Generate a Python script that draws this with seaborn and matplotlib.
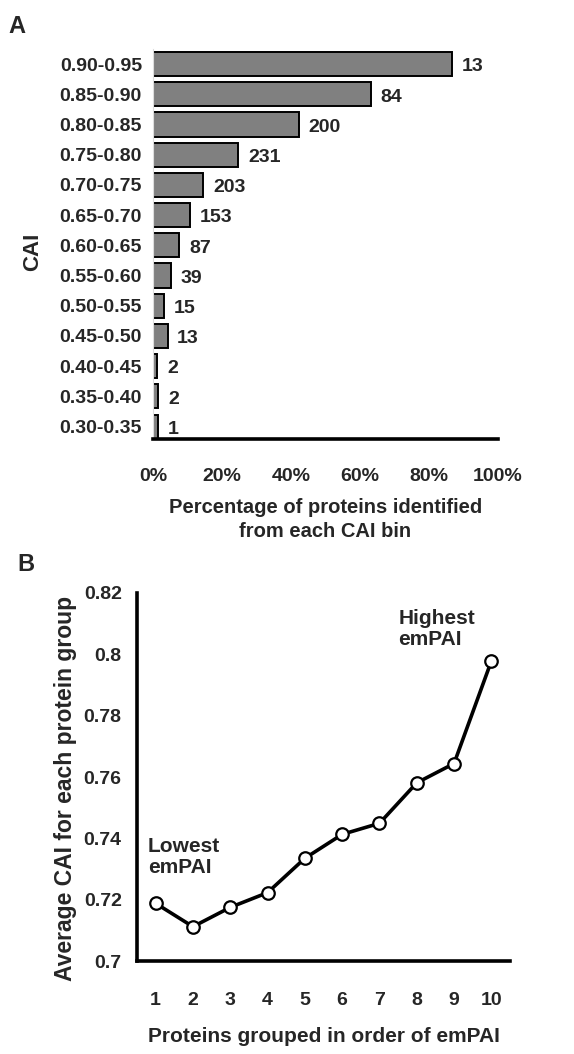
import matplotlib
matplotlib.use("Agg")
import matplotlib.pyplot as plt
import seaborn as sns
import pandas as pd
from matplotlib.ticker import FixedLocator, FuncFormatter

# Panel A: CAI bins, % identified and counts shown next to each bar
CAI_BINS = ["0.90-0.95", "0.85-0.90", "0.80-0.85", "0.75-0.80", "0.70-0.75",
            "0.65-0.70", "0.60-0.65", "0.55-0.60", "0.50-0.55", "0.45-0.50",
            "0.40-0.45", "0.35-0.40", "0.30-0.35"]
PCT_IDENTIFIED = [86.7, 63.1, 42.3, 24.7, 14.6, 10.7, 7.6, 5.1, 3.1, 4.2, 1.2, 1.5, 1.4]
PROTEIN_COUNTS = ["13", "84", "200", "231", "203", "153", "87", "39", "15", "13", "2", "2", "1"]

# Panel B: average CAI per emPAI group
EMPAI_GROUPS = [1, 2, 3, 4, 5, 6, 7, 8, 9, 10]
AVG_CAI = [0.7188, 0.7112, 0.7175, 0.7223, 0.7335, 0.7413, 0.7449, 0.7581, 0.7644, 0.7978]

sns.set_style("white")
plt.rcParams["font.family"] = ["Liberation Sans", "DejaVu Sans"]
plt.rcParams["font.weight"] = "bold"
plt.rcParams["axes.labelweight"] = "bold"

fig = plt.figure(figsize=(5.74, 10.54), dpi=100)

# ---- Panel A
axA = fig.add_axes([0.2666, 0.5835, 0.8676 - 0.2666, 0.9535 - 0.5835])
dfA = pd.DataFrame({"bin": CAI_BINS, "pct": PCT_IDENTIFIED})
sns.barplot(data=dfA, x="pct", y="bin", orient="h", color="#808080",
            saturation=1, edgecolor="black", linewidth=1.4, width=0.8, ax=axA)
labels = axA.bar_label(axA.containers[0], labels=PROTEIN_COUNTS, padding=6,
                       fontsize=14, fontweight="bold")
for t in labels:
    t.xyann = (7, -2)  # counts sit a touch below bar centre
axA.set_xlim(0, 100)
axA.set_ylim(12.41, -0.5)
axA.xaxis.set_major_locator(FixedLocator([0, 20, 40, 60, 80, 100]))
axA.xaxis.set_major_formatter(FuncFormatter(lambda v, p: f"{v:.0f}%"))
axA.tick_params(axis="x", labelsize=14, length=4, color="#cccccc", pad=17, direction="out")
axA.tick_params(axis="y", labelsize=14, length=0, pad=8)
for s in ["top", "right"]:
    axA.spines[s].set_visible(False)
axA.spines["left"].set_color("#dddddd")
axA.spines["left"].set_linewidth(0.8)
axA.spines["bottom"].set_color("black")
axA.spines["bottom"].set_linewidth(2.6)
axA.set_xlabel("Percentage of proteins identified\nfrom each CAI bin", fontsize=14.5,
               labelpad=9, linespacing=1.35)
axA.set_ylabel("CAI", fontsize=16)
axA.yaxis.set_label_coords(-0.32, 0.48)
fig.text(0.015, 0.975, "A", fontsize=17, fontweight="bold", va="center")

# ---- Panel B
axB = fig.add_axes([0.2387, 0.0882, 0.8885 - 0.2387, 0.4374 - 0.0882])
dfB = pd.DataFrame({"group": EMPAI_GROUPS, "cai": AVG_CAI})
sns.lineplot(data=dfB, x="group", y="cai", color="black", linewidth=2.6,
             marker="o", markersize=9, markerfacecolor="white",
             markeredgecolor="black", markeredgewidth=1.6, ax=axB)
axB.set_xlim(0.5, 10.5)
axB.set_ylim(0.7, 0.82)
axB.set_xticks(EMPAI_GROUPS)
axB.set_xticks([g - 0.5 for g in EMPAI_GROUPS] + [10.5], minor=True)
axB.set_yticks([0.7, 0.72, 0.74, 0.76, 0.78, 0.8, 0.82])
axB.yaxis.set_major_formatter(FuncFormatter(lambda v, p: f"{v:g}"))
axB.tick_params(axis="x", which="major", length=0, labelsize=14, pad=22)
axB.tick_params(axis="x", which="minor", length=5, color="#cccccc", direction="out")
axB.tick_params(axis="y", labelsize=14, length=3, color="#cccccc", pad=8)
for s in ["top", "right"]:
    axB.spines[s].set_visible(False)
for s in ["left", "bottom"]:
    axB.spines[s].set_color("black")
    axB.spines[s].set_linewidth(2.6)
axB.set_xlabel("Proteins grouped in order of emPAI", fontsize=15, labelpad=13)
axB.set_ylabel("Average CAI for each protein group", fontsize=16.5)
axB.yaxis.set_label_coords(-0.162, 0.47)
axB.text(7.51, 0.8148, "Highest\nemPAI", fontsize=15, fontweight="bold",
         ha="left", va="top", linespacing=1.15)
axB.text(0.79, 0.7405, "Lowest\nemPAI", fontsize=15, fontweight="bold",
         ha="left", va="top", linespacing=1.15)
fig.text(0.03, 0.464, "B", fontsize=17, fontweight="bold", va="center")

fig.savefig("out.png", dpi=100)
